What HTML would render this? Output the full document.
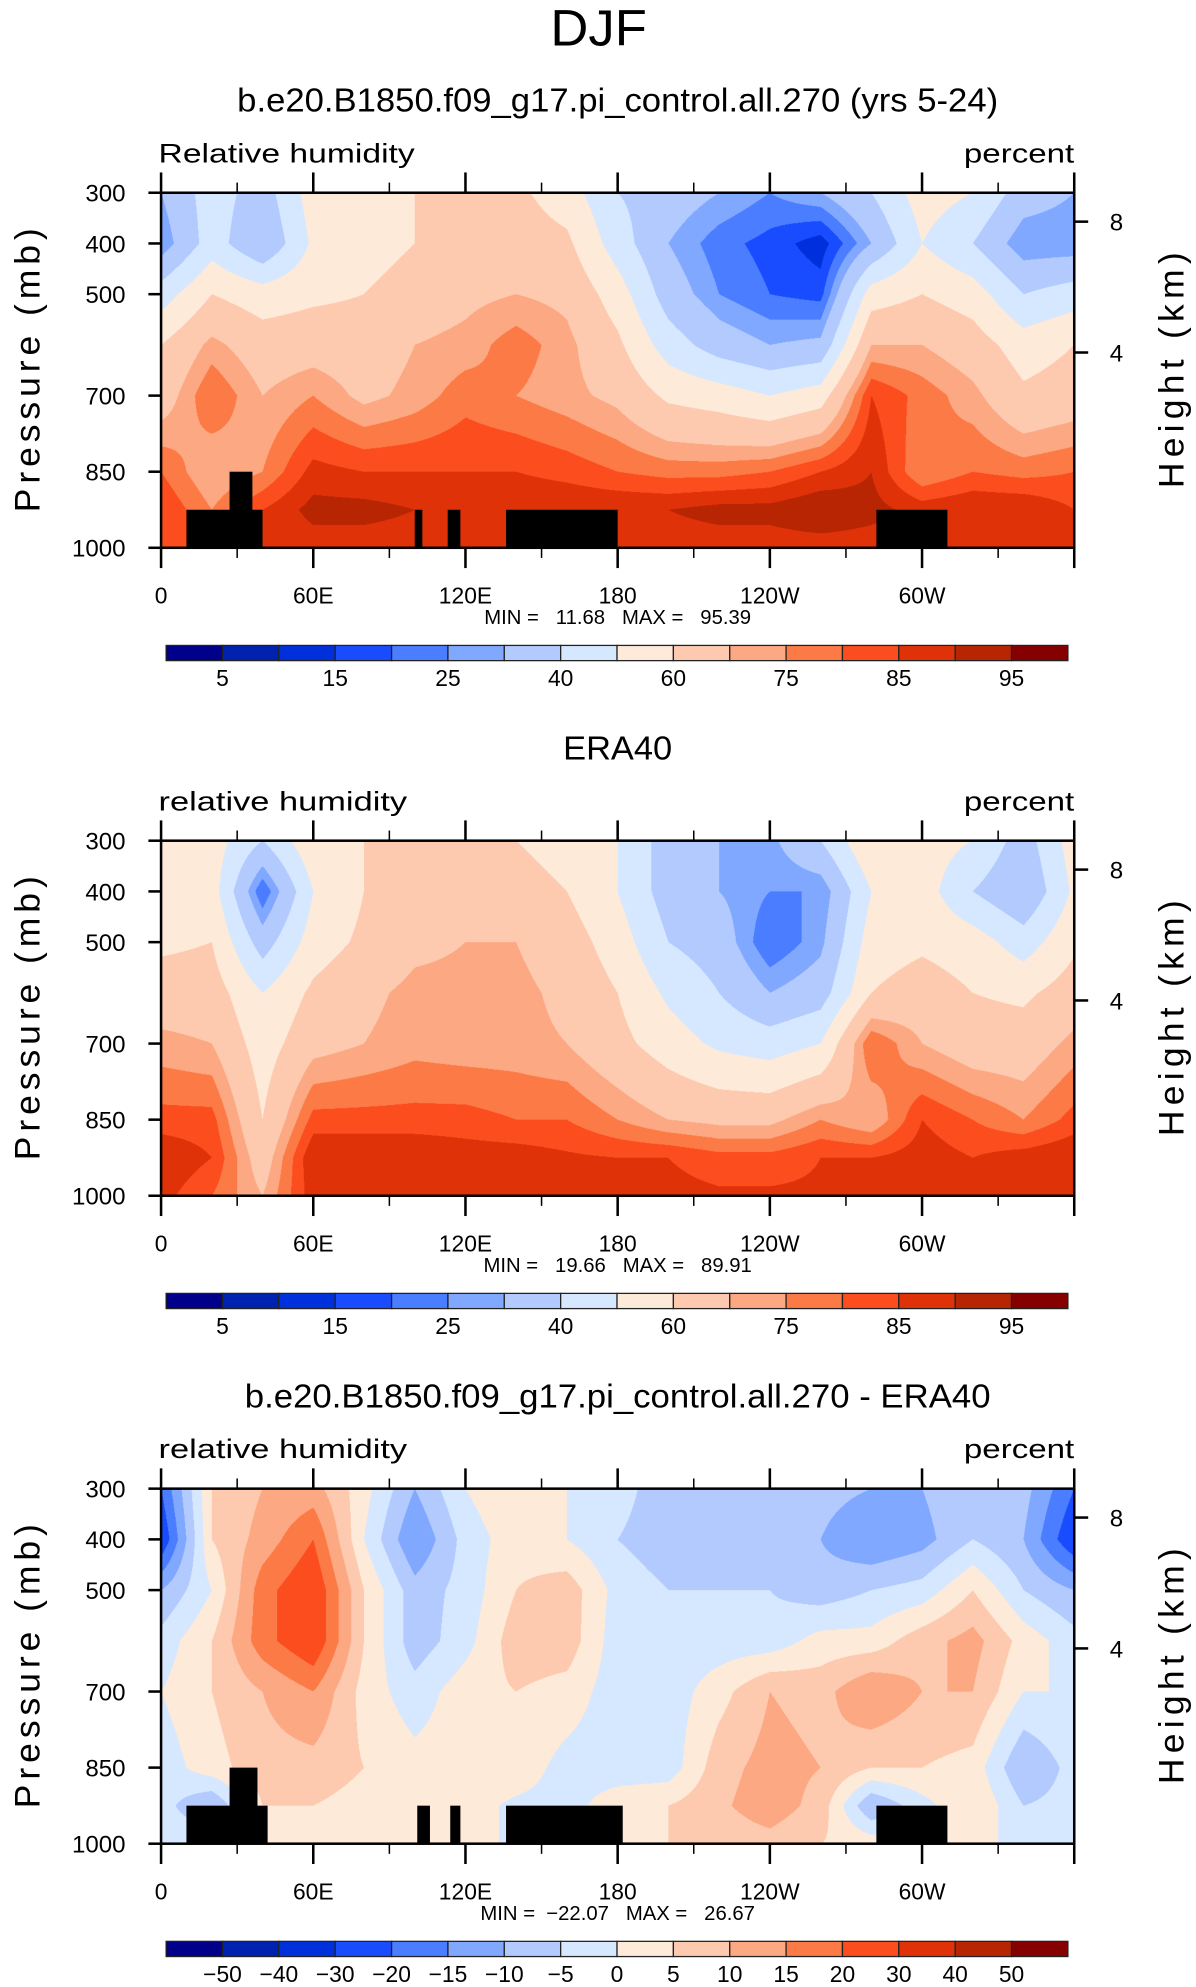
<!DOCTYPE html>
<html><head><meta charset="utf-8">
<style>
html,body{margin:0;padding:0;background:#fff;width:1196px;height:1987px;overflow:hidden}
#root{position:absolute;left:0;top:0;width:943px;height:1567px;transform:scale(1.26829,1.26802);transform-origin:0 0}
canvas{position:absolute}
svg{position:absolute;left:0;top:0}
text{font-family:"Liberation Sans",sans-serif;fill:#000}
.pre{white-space:pre}
</style></head>
<body>
<div id="root">
<svg id="svg" width="943" height="1567" viewBox="0 0 943 1567">
<text x="472" y="36" font-size="40" text-anchor="middle" textLength="76" lengthAdjust="spacingAndGlyphs" fill="#222">DJF</text>
</svg>
</div>
<script>
// ---------- data ----------
const lons = [0,20,40,60,80,100,120,140,160,180,200,220,240,260,280,300,320,340,360];
const plevs = [300,400,500,600,700,850,925,1000];
const rhLevels = [5,10,15,20,25,30,40,50,60,70,75,80,85,90,95];
const rhLabels = ["5","15","25","40","60","75","85","95"];
const diffLevels = [-50,-40,-30,-20,-15,-10,-5,0,5,10,15,20,30,40,50];
const diffLabels = ["−50","−40","−30","−20","−15","−10","−5","0","5","10","15","20","30","40","50"];
const colors = ["#00008a","#0022b0","#0030dc","#1a4cff","#4a7dff","#80a8ff","#b3caff","#d6e8ff","#feead9","#fdcab0","#fca882","#fc7a45","#fb4d1e","#e03208","#b72503","#870000"];
// rows = pressure levels (300..1000), cols = lons
const modelRH = [
 [30,45,35,55,55,60,62,62,55,40,35,30,25,30,40,55,50,35,30],
 [25,45,30,52,55,60,65,65,62,45,30,22,18,12,30,50,40,25,25],
 [45,60,55,58,60,65,68,70,68,55,35,25,20,18,55,60,55,40,45],
 [60,72,65,66,65,70,72,78,72,62,45,35,30,32,70,70,65,55,60],
 [65,80,70,75,68,72,78,75,72,68,58,55,50,55,85,78,72,62,65],
 [80,70,75,87,85,85,85,85,83,80,78,78,80,85,90,75,80,78,80],
 [85,75,85,92,92,90,88,90,90,90,90,92,92,95,92,88,90,90,85],
 [85,85,85,87,87,87,87,87,87,87,87,87,87,87,87,87,87,87,85]];
const eraRH = [
 [55,55,40,58,60,60,62,60,58,50,35,30,28,40,60,55,50,35,55],
 [52,55,20,50,60,62,62,62,60,50,35,30,25,25,50,55,40,30,52],
 [58,60,35,55,62,68,70,70,65,55,40,35,20,28,55,58,55,45,58],
 [65,65,50,62,68,72,72,72,68,60,48,40,30,35,60,65,60,58,65],
 [72,70,55,67,70,73,72,72,70,63,55,48,45,50,80,70,65,65,72],
 [82,82,60,82,82,82,82,80,80,75,70,68,68,75,70,85,80,75,82],
 [90,85,65,90,90,90,88,88,86,85,85,82,82,85,85,88,85,88,90],
 [87,80,70,88,88,88,88,87,87,87,87,86,86,86,86,86,85,88,87]];
const diffRH = [
 [-20,5,10,12,2,-10,0,5,0,-3,-8,-5,-5,-8,-10,-10,-5,-8,-20],
 [-25,5,12,20,0,-15,-3,3,0,-5,-8,-8,-8,-10,-15,-12,-5,-10,-25],
 [-10,0,18,25,5,-8,-3,5,8,-2,-5,-5,-5,-8,-5,-3,5,-5,-10],
 [-3,5,18,25,5,-8,-2,8,8,-3,-3,-3,-3,2,2,8,12,3,-3],
 [0,5,10,15,3,-3,3,5,3,-3,-3,3,10,8,15,10,10,0,0],
 [-3,3,8,8,5,2,3,3,-2,-3,-3,8,12,10,5,5,3,-10,-3],
 [-3,-10,5,5,3,3,2,-1,-2,3,5,9,13,8,-10,-2,5,-5,-3],
 [-3,0,2,2,2,2,0,0,0,3,5,7,8,5,3,2,3,-3,-3]];
// land masks: [lonStart, lonEnd, topPressure]
const landModel = [[10,40,925],[27,36,850],[100,103,925],[113,118,925],[136,180,925],[282,310,925]];
const landDiff = [[10,42,925],[27,38,850],[101,106,925],[114,118,925],[136,182,925],[282,310,925]];
const xTickLabels = ["0","60E","120E","180","120W","60W"];
const yTicks = [300,400,500,700,850,1000];
const hTicks = [[8,357],[4,615]]; // [km, pressure]

// ---------- axes helpers ----------
const X0=127, W=720, TOP=152, H=280;
function xOf(lon){return X0 + lon*W/360;}
function yOf(p,off){return off + TOP + (p-300)*H/700;}

const svg=document.getElementById('svg');
const NS='http://www.w3.org/2000/svg';
function mk(tag,attrs,parent,text){const e=document.createElementNS(NS,tag);for(const k in attrs)e.setAttribute(k,attrs[k]);if(text!==undefined)e.textContent=text;(parent||svg).appendChild(e);return e;}

function valAt(grid,lon,p){
  let i=Math.min(Math.floor(lon/20),17); let fx=(lon-lons[i])/20;
  let j=0; while(j<plevs.length-2 && p>plevs[j+1]) j++;
  let fy=(p-plevs[j])/(plevs[j+1]-plevs[j]);
  const a=grid[j][i],b=grid[j][i+1],c=grid[j+1][i],d=grid[j+1][i+1];
  return (a*(1-fx)+b*fx)*(1-fy)+(c*(1-fx)+d*fx)*fy;
}
function colorIdx(v,levels){let k=0;while(k<levels.length && v>=levels[k])k++;return k;}

function panel(off,title,titleW,leftLabel,leftW,grid,levels,land,minmax,cbLabels,cbEvery){
  const g=mk('g',{},svg);
  
  
  const t=mk('text',{x:487,y:off+88,'font-size':26,'text-anchor':'middle',textLength:titleW,lengthAdjust:'spacingAndGlyphs'},g,title);
  
  
  const ll=mk('text',{x:125,y:off+128,'font-size':21,textLength:leftW,lengthAdjust:'spacingAndGlyphs'},g,leftLabel);
  
  
  const ul=mk('text',{x:847,y:off+128,'font-size':21,'text-anchor':'end',textLength:87,lengthAdjust:'spacingAndGlyphs'},g,'percent');
  
  
  const cv=document.createElement('canvas');
  const S=2; cv.width=W*S; cv.height=H*S;
  cv.style.left=X0+'px'; cv.style.top=(off+TOP)+'px'; cv.style.width=W+'px'; cv.style.height=H+'px';
  
  
  const ctx=cv.getContext('2d');
  const img=ctx.createImageData(cv.width,cv.height);
  const rgb=colors.map(c=>[parseInt(c.slice(1,3),16),parseInt(c.slice(3,5),16),parseInt(c.slice(5,7),16)]);
  for(let y=0;y<cv.height;y++){const p=300+(y+0.5)/cv.height*700;
    for(let x=0;x<cv.width;x++){const lon=(x+0.5)/cv.width*360;
      const c=rgb[colorIdx(valAt(grid,lon,p),levels)];const o=(y*cv.width+x)*4;
      img.data[o]=c[0];img.data[o+1]=c[1];img.data[o+2]=c[2];img.data[o+3]=255;}}
  ctx.putImageData(img,0,0);
  document.getElementById('root').insertBefore(cv,svg);
  land.forEach(m=>{const r=mk('rect',{x:xOf(m[0]),y:yOf(m[2],off),width:xOf(m[1])-xOf(m[0]),height:yOf(1000,off)-yOf(m[2],off),fill:'#000'},g);
    
    });
  const fr=mk('rect',{x:X0,y:off+TOP,width:W,height:H,fill:'none',stroke:'#000','stroke-width':2},g);
  
  
  for(let lon=0;lon<=360;lon+=30){const major=lon%60===0;const L=major?16:8;const x=xOf(lon);
    mk('line',{x1:x,x2:x,y1:off+TOP,y2:off+TOP-L,stroke:'#000','stroke-width':major?2:1.2},g);
    mk('line',{x1:x,x2:x,y1:off+TOP+H,y2:off+TOP+H+L,stroke:'#000','stroke-width':major?2:1.2},g);}
  xTickLabels.forEach((s,i)=>{const tx=mk('text',{x:xOf(i*60),y:off+476,'font-size':18,'text-anchor':'middle'},g,s);
    
    });
  yTicks.forEach(p=>{const y=yOf(p,off);mk('line',{x1:X0,x2:X0-10,y1:y,y2:y,stroke:'#000','stroke-width':2},g);
    const ty=mk('text',{x:99,y:y+7,'font-size':19,'text-anchor':'end'},g,String(p));
    
    });
  hTicks.forEach(h=>{const y=yOf(h[1],off);mk('line',{x1:X0+W,x2:X0+W+11,y1:y,y2:y,stroke:'#000','stroke-width':2},g);
    const th=mk('text',{x:875,y:y+7,'font-size':19},g,String(h[0]));
    
    });
  const yt=mk('text',{x:0,y:0,'font-size':28,'text-anchor':'middle',textLength:224,lengthAdjust:'spacing',transform:`translate(31,${off+292}) rotate(-90)`},g,'Pressure (mb)');
  
  
  const ht=mk('text',{x:0,y:0,'font-size':28,'text-anchor':'middle',textLength:186,lengthAdjust:'spacing',transform:`translate(933,${off+292}) rotate(-90)`},g,'Height (km)');
  
  
  const mm=mk('text',{x:487,y:off+492,'font-size':16,'text-anchor':'middle','class':'pre'},g,minmax);
  
  
  const cbx=131,cbw=711/16;
  colors.forEach((c,k)=>{const r=mk('rect',{x:cbx+k*cbw,y:off+509,width:cbw,height:12,fill:c,stroke:'#222','stroke-width':1},g);
    
    });
  cbLabels.forEach((s,i)=>{const k=cbEvery===2?2*i+1:i+1;
    const tl=mk('text',{x:cbx+k*cbw,y:off+541,'font-size':18,'text-anchor':'middle'},g,s);
    
    });
}
panel(0,'b.e20.B1850.f09_g17.pi_control.all.270 (yrs 5-24)',600,'Relative humidity',202,modelRH,rhLevels,landModel,'MIN =   11.68   MAX =   95.39',rhLabels,2);
panel(511,'ERA40',86,'relative humidity',196,eraRH,rhLevels,[],'MIN =   19.66   MAX =   89.91',rhLabels,2);
panel(1022,'b.e20.B1850.f09_g17.pi_control.all.270 - ERA40',588,'relative humidity',196,diffRH,diffLevels,landDiff,'MIN =  −22.07   MAX =   26.67',diffLabels,1);
</script>
</body></html>
